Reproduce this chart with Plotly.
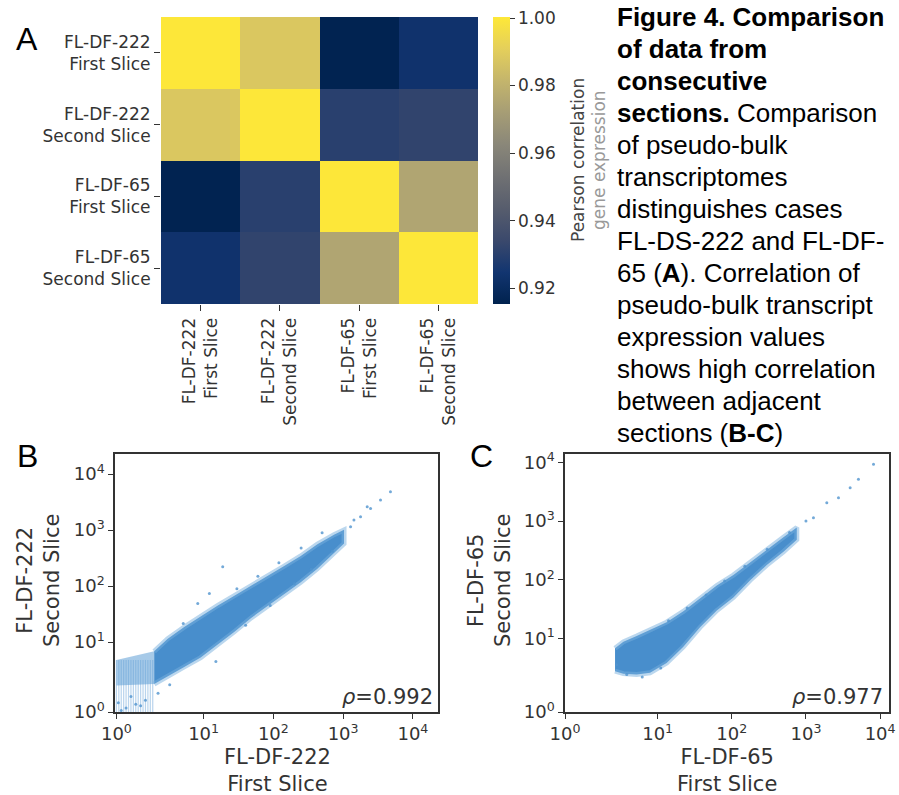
import numpy as np
import plotly.graph_objects as go

W, H = 899, 795

# ---------------- data ----------------
hm_labels = ["FL-DF-222<br>First Slice", "FL-DF-222<br>Second Slice",
             "FL-DF-65<br>First Slice", "FL-DF-65<br>Second Slice"]
corr = [[1.000, 0.988, 0.916, 0.9235],
        [0.988, 1.000, 0.930, 0.932],
        [0.916, 0.930, 1.000, 0.975],
        [0.9235, 0.932, 0.975, 1.000]]
cbar_ticks = [0.92, 0.94, 0.96, 0.98, 1.00]
cbar_ticktext = ["0.92", "0.94", "0.96", "0.98", "1.00"]

log_ticks = [1, 10, 100, 1000, 10000]
log_ticktext = ["10<sup>0</sup>", "10<sup>1</sup>", "10<sup>2</sup>", "10<sup>3</sup>", "10<sup>4</sup>"]

# Panel B: dense envelope of the point cloud (first slice -> x, second slice -> y)
B_band_x = [4.9, 6.3, 8.0, 9.7, 16, 28, 48, 83, 143, 247, 428, 740, 1030]
B_band_lo = [4.6, 5.6, 6.8, 8.0, 9.6, 15.5, 27, 45, 72, 117, 205, 380, 575]
B_band_hi = [8.8, 11.5, 18.5, 29, 45, 68, 100, 152, 228, 345, 560, 830, 1010]
# low-count striped block (discrete first-slice values)
B_stripe_x = [1.0, 1.25, 1.5, 1.75, 2.0, 2.25, 2.5, 2.75, 3.0, 3.25, 3.5, 3.75, 4.0, 4.25, 4.5, 4.75]
B_stripe_lo = [1.0] * 16
B_stripe_hi = [7.7] * 16
B_block_x = [1.0, 4.9]
B_block_lo = [4.4, 4.6]
B_block_hi = [7.7, 8.8]
B_pts_x = [18.8, 9.4, 12.1, 7.9, 5.3, 1279, 1778, 2472, 3436, 4770, 2213, 1429, 30, 60, 120,
           250, 500, 6.5, 3.0, 2.0, 1.5, 4.0, 2.5, 3.5, 1.2, 15, 40, 90, 200, 350, 700]
B_pts_y = [221, 49, 74, 21.5, 3.4, 1146, 1729, 2438, 3436, 4830, 2606, 1510, 90, 150, 260,
           480, 900, 4.5, 2.0, 1.5, 1.2, 2.5, 3.0, 1.8, 2.2, 7.5, 20, 45, 110, 200, 420]
B_rho = "<i>ρ</i>=0.992"

# Panel C
C_band_x = [5.86, 6.67, 7.96, 9.26, 13.2, 22.2, 37.3, 62.7, 105, 177, 296, 497, 752]
C_band_lo = [6.0, 5.7, 5.6, 5.8, 7.0, 9.0, 15.5, 30, 50, 98, 178, 300, 480]
C_band_hi = [8.8, 9.6, 11.0, 13.8, 19.0, 29, 48, 80, 120, 200, 335, 530, 775]
C_pts_x = [1262, 1910, 2746, 3945, 5105, 8147, 6.0, 7.0, 8.5, 11, 14, 25, 45, 80, 150, 300, 600, 1000]
C_pts_y = [1135, 2046, 2490, 3690, 5117, 9226, 6.8, 5.6, 5.3, 6.4, 20, 33, 55, 95, 170, 330, 640, 1000]
C_rho = "<i>ρ</i>=0.977"

caption = [
    "<b>Figure 4. Comparison</b>",
    "<b>of data from</b>",
    "<b>consecutive</b>",
    "<b>sections.</b> Comparison",
    "of pseudo-bulk",
    "transcriptomes",
    "distinguishes cases",
    "FL-DS-222 and FL-DF-",
    "65 (<b>A</b>). Correlation of",
    "pseudo-bulk transcript",
    "expression values",
    "shows high correlation",
    "between adjacent",
    "sections (<b>B-C</b>)",
]

# ---------------- helpers ----------------
def px(x):
    return x / W

def py(y):
    return 1 - y / H

def scale(v):
    """symlog-like axis scale of the original (linear first decade, log above)."""
    v = np.asarray(v, dtype=float)
    return np.where(v <= 10, 1.25 * (v - 1) / 9, 1.25 + np.log10(np.maximum(v, 1e-9) / 10))

def band(xs, lo, hi):
    xs, lo, hi = np.asarray(xs, float), np.asarray(lo, float), np.asarray(hi, float)
    return (np.concatenate([scale(xs), scale(xs[::-1])]),
            np.concatenate([scale(hi), scale(lo[::-1])]))

FONT = "DejaVu Sans"
TXT = "#333333"
BLUE = "rgb(72,142,204)"

fig = go.Figure()

# ---------------- heatmap ----------------
cividis = ['#00224e', '#123570', '#3b496c', '#575d6d', '#707173',
           '#8a8779', '#a69d75', '#c4b56c', '#e4cf5b', '#fee838']
cscale = [[i / 9, c] for i, c in enumerate(cividis)]
fig.add_trace(go.Heatmap(
    z=corr, x=hm_labels, y=hm_labels, colorscale=cscale, zmin=0.9153, zmax=1.0003,
    xaxis="x", yaxis="y",
    colorbar=dict(x=px(493), xanchor="left", xpad=0, ypad=0,
                  y=py((17 + 304) / 2), yanchor="middle",
                  len=287 / H, lenmode="fraction", thickness=17, thicknessmode="pixels",
                  outlinewidth=0, ticks="outside", ticklen=5, tickcolor=TXT,
                  tickvals=cbar_ticks, ticktext=cbar_ticktext,
                  tickfont=dict(family=FONT, size=17, color=TXT)),
))

# ---------------- scatter panels ----------------
def add_band(xa, ya, bx, blo, bhi, fillcolor, line=None):
    xx, yy = band(bx, blo, bhi)
    fig.add_trace(go.Scatter(x=xx, y=yy, fill="toself", mode="lines",
                             line=line or dict(width=0), fillcolor=fillcolor,
                             xaxis=xa, yaxis=ya, showlegend=False, hoverinfo="skip"))

# B low-count stripes
sx, sy = [], []
for xv, lo, hi in zip(B_stripe_x, B_stripe_lo, B_stripe_hi):
    sx += [xv, xv, None]
    sy += [lo, hi, None]
fig.add_trace(go.Scatter(x=[None if v is None else float(scale(v)) for v in sx],
                         y=[None if v is None else float(scale(v)) for v in sy],
                         mode="lines", line=dict(width=1.2, color="rgba(100,160,215,0.45)"),
                         xaxis="x2", yaxis="y2", showlegend=False, hoverinfo="skip"))
add_band("x2", "y2", B_block_x, B_block_lo, B_block_hi, "rgba(95,158,214,0.55)")
add_band("x2", "y2", B_band_x, B_band_lo, B_band_hi, BLUE,
         line=dict(width=5, color="rgba(120,175,222,0.5)"))
fig.add_trace(go.Scatter(x=scale(B_pts_x), y=scale(B_pts_y), mode="markers",
                         marker=dict(size=3, color="rgba(80,148,206,0.8)"),
                         xaxis="x2", yaxis="y2", showlegend=False))

add_band("x3", "y3", C_band_x, C_band_lo, C_band_hi, BLUE,
         line=dict(width=5, color="rgba(120,175,222,0.5)"))
fig.add_trace(go.Scatter(x=scale(C_pts_x), y=scale(C_pts_y), mode="markers",
                         marker=dict(size=3, color="rgba(80,148,206,0.8)"),
                         xaxis="x3", yaxis="y3", showlegend=False))

tickvals = scale(log_ticks).tolist()
sc_axis = dict(showline=True, mirror=True, linecolor="#333", linewidth=1.5,
               ticks="outside", ticklen=5, tickcolor="#333", tickwidth=1.2,
               tickvals=tickvals, ticktext=log_ticktext, showgrid=False, zeroline=False,
               tickfont=dict(family=FONT, size=18, color=TXT))

fig.update_layout(
    width=W, height=H, margin=dict(l=0, r=0, t=0, b=0, autoexpand=False),
    paper_bgcolor="white", plot_bgcolor="white", showlegend=False,
    xaxis=dict(domain=[px(161), px(478)], anchor="y", ticks="outside", ticklen=6,
               tickcolor=TXT, tickangle=-90, showgrid=False, zeroline=False, showline=False,
               tickfont=dict(family=FONT, size=17, color=TXT)),
    yaxis=dict(domain=[py(304), py(17)], anchor="x", ticks="outside", ticklen=6,
               tickcolor=TXT, autorange="reversed", showgrid=False, zeroline=False,
               showline=False, tickfont=dict(family=FONT, size=17, color=TXT)),
    xaxis2=dict(domain=[px(115), px(438)], anchor="y2", range=[-0.02, 4.61], **sc_axis),
    yaxis2=dict(domain=[py(712), py(454)], anchor="x2", range=[0, 4.61], **sc_axis),
    xaxis3=dict(domain=[px(565), px(889)], anchor="y3", range=[0, 4.37], **sc_axis),
    yaxis3=dict(domain=[py(712), py(454)], anchor="x3", range=[0, 4.39], **sc_axis),
)

ann = []
def A(x, y, text, size, family=FONT, color=TXT, xanchor="center", yanchor="middle", angle=0):
    ann.append(dict(x=px(x), y=py(y), xref="paper", yref="paper", text=text, showarrow=False,
                    xanchor=xanchor, yanchor=yanchor, textangle=angle,
                    font=dict(family=family, size=size, color=color)))

# panel letters
A(27, 39, "A", 32, family="Liberation Sans", color="black")
A(27, 456, "B", 32, family="Liberation Sans", color="black")
A(481, 456, "C", 32, family="Liberation Sans", color="black")

# colorbar title
A(578, 160, "Pearson correlation", 17, color="#444", angle=-90)
A(599, 160, "gene expression", 17, color="#999", angle=-90)

# axis titles
A(277, 770, "FL-DF-222<br>First Slice", 21)
A(38, 581, "FL-DF-222<br>Second Slice", 21, angle=-90)
A(727, 770, "FL-DF-65<br>First Slice", 21)
A(489, 581, "FL-DF-65<br>Second Slice", 21, angle=-90)

# rho
A(435, 697, B_rho, 21, xanchor="right")
A(885, 697, C_rho, 21, xanchor="right")

# caption
for i, line in enumerate(caption):
    A(615, 17 + 32 * i, line, 26, family="Liberation Sans", color="black", xanchor="left")

fig.update_layout(annotations=ann)
fig.write_html("out.html", config={"displayModeBar": False},
               post_script="document.body.style.margin='0';document.body.style.padding='0';")
